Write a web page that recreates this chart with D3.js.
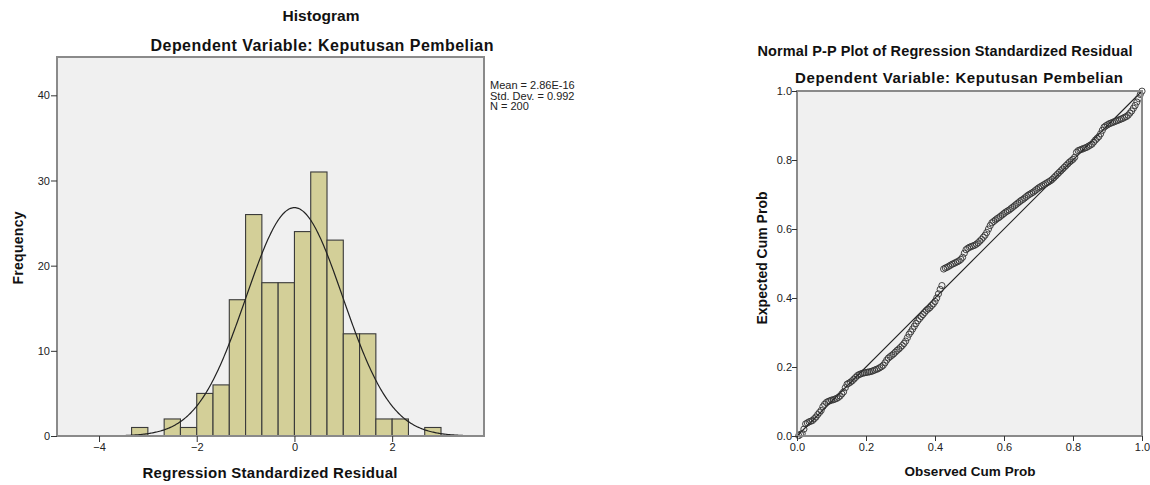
<!DOCTYPE html>
<html><head><meta charset="utf-8">
<script src="https://cdn.jsdelivr.net/npm/d3@7"></script>
<style>
html,body{margin:0;padding:0;background:#fff;}
svg{display:block;font-family:"Liberation Sans",Arial,sans-serif;}
</style></head>
<body>
<svg id="c" width="1150" height="485"></svg>
<script>
// ---------- Histogram data ----------
const binStarts = [-10/3,-3,-8/3,-7/3,-2,-5/3,-4/3,-1,-2/3,-1/3,0,1/3,2/3,1,4/3,5/3,2,7/3,8/3];
const binWidth = 1/3;
const frequencies = [1,0,2,1,5,6,16,26,18,18,24,31,23,12,12,2,2,0,1];
const histXTicks = [-4,-2,0,2];
const histYTicks = [0,10,20,30,40];
const statMean = 2.86e-16, statSD = 0.992, statN = 200;
const statLines = ["Mean = 2.86E-16","Std. Dev. = 0.992","N = 200"];

// ---------- P-P plot data (expected cum prob, ordered by observed rank) ----------
const expectedCumProb = [
0.001,0.005,0.007,0.020,0.035,0.038,0.041,0.043,0.045,0.050,
0.055,0.062,0.068,0.074,0.085,0.092,0.097,0.100,0.102,0.104,
0.105,0.107,0.109,0.112,0.116,0.122,0.128,0.140,0.150,0.153,
0.156,0.160,0.165,0.170,0.175,0.178,0.180,0.182,0.183,0.184,
0.185,0.186,0.187,0.189,0.191,0.193,0.195,0.198,0.201,0.205,
0.212,0.220,0.226,0.230,0.234,0.238,0.243,0.248,0.252,0.257,
0.262,0.268,0.275,0.285,0.295,0.302,0.310,0.318,0.326,0.334,
0.340,0.346,0.352,0.358,0.364,0.368,0.372,0.378,0.383,0.390,
0.400,0.412,0.425,0.436,0.484,0.487,0.489,0.492,0.495,0.498,
0.500,0.503,0.505,0.508,0.512,0.518,0.530,0.540,0.544,0.547,
0.549,0.551,0.553,0.556,0.560,0.565,0.570,0.576,0.582,0.590,
0.600,0.610,0.618,0.622,0.626,0.630,0.633,0.637,0.641,0.645,
0.649,0.652,0.655,0.659,0.663,0.667,0.671,0.675,0.679,0.683,
0.686,0.690,0.694,0.698,0.701,0.704,0.707,0.711,0.715,0.719,
0.722,0.725,0.728,0.731,0.734,0.737,0.740,0.744,0.749,0.754,
0.759,0.764,0.769,0.774,0.779,0.784,0.789,0.794,0.798,0.802,
0.808,0.822,0.827,0.829,0.831,0.833,0.835,0.837,0.840,0.843,
0.846,0.852,0.858,0.863,0.868,0.876,0.886,0.895,0.899,0.902,
0.905,0.907,0.909,0.911,0.913,0.915,0.917,0.919,0.921,0.924,
0.926,0.930,0.936,0.942,0.950,0.958,0.968,0.978,0.990,0.9995];
const ppTicks = [0,0.2,0.4,0.6,0.8,1.0];

const svg = d3.select("#c");
const tickColor = "#333";

function label(x,y,txt,size,len,rot){
  const t = svg.append("text").attr("text-anchor","middle")
    .style("font-size",size+"px").style("font-weight","bold").attr("fill","#111").text(txt);
  if(rot) t.attr("transform",`translate(${x},${y}) rotate(-90)`);
  else t.attr("x",x).attr("y",y);
  if(len) t.attr("textLength",len).attr("lengthAdjust","spacing");
  return t;
}

// ================= Histogram =================
const H = {l:57,r:484,t:57,b:436};
const hx = d3.scaleLinear().domain([-4.86,3.88]).range([H.l,H.r]);
const hy = d3.scaleLinear().domain([0,44.5]).range([H.b,H.t]);

svg.append("rect").attr("x",H.l).attr("y",H.t).attr("width",H.r-H.l).attr("height",H.b-H.t).attr("fill","#f0f0f0");

const bins = binStarts.map((s,i)=>({x0:s,x1:s+binWidth,f:frequencies[i]})).filter(d=>d.f>0);
svg.append("g").selectAll("rect").data(bins).join("rect")
  .attr("x",d=>hx(d.x0)).attr("y",d=>hy(d.f))
  .attr("width",d=>hx(d.x1)-hx(d.x0)).attr("height",d=>hy(0)-hy(d.f))
  .attr("fill","#d3cf98").attr("stroke","#3a3a3a").attr("stroke-width",1.1);

// fitted normal curve
const pdf = x => statN*binWidth*Math.exp(-0.5*Math.pow((x-statMean)/statSD,2))/(statSD*Math.sqrt(2*Math.PI));
const curveX = d3.range(-4.86,3.881,0.02);
svg.append("path").datum(curveX)
  .attr("d",d3.line().x(d=>hx(d)).y(d=>hy(pdf(d))))
  .attr("fill","none").attr("stroke","#222").attr("stroke-width",1.2);

// frame
svg.append("rect").attr("x",H.l).attr("y",H.t).attr("width",H.r-H.l).attr("height",H.b-H.t)
  .attr("fill","none").attr("stroke","#8a8a8a").attr("stroke-width",2);

const hxAxis = svg.append("g").attr("transform",`translate(0,${H.b})`)
  .call(d3.axisBottom(hx).tickValues(histXTicks).tickSize(6).tickSizeOuter(0).tickFormat(d3.format("d")));
const hyAxis = svg.append("g").attr("transform",`translate(${H.l},0)`)
  .call(d3.axisLeft(hy).tickValues(histYTicks).tickSize(6).tickSizeOuter(0).tickFormat(d3.format("d")));
[hxAxis,hyAxis].forEach(a=>{
  a.select(".domain").remove();
  a.selectAll("line").attr("stroke",tickColor);
  a.selectAll("text").attr("fill","#222").style("font-size","11px").style("font-family","Liberation Sans, Arial, sans-serif");
});
hxAxis.selectAll("text").attr("dy","0.71em").attr("y",7);
hyAxis.selectAll("text").attr("x",-7);

label(321,21,"Histogram",15.5,77);
label(322,51,"Dependent Variable: Keputusan Pembelian",16,343);
label(270,478,"Regression Standardized Residual",15,255);
label(23,248,"Frequency",14,73,true);
svg.append("g").selectAll("text").data(statLines).join("text")
  .attr("x",490).attr("y",(d,i)=>89+i*10.5)
  .style("font-size","11px").attr("fill","#222").text(d=>d);

// ================= P-P plot =================
const P = {l:797,r:1142,t:91,b:436};
const px = d3.scaleLinear().domain([0,1]).range([P.l,P.r]);
const py = d3.scaleLinear().domain([0,1]).range([P.b,P.t]);

svg.append("rect").attr("x",P.l).attr("y",P.t).attr("width",P.r-P.l).attr("height",P.b-P.t).attr("fill","#f0f0f0");
svg.append("line").attr("x1",px(0)).attr("y1",py(0)).attr("x2",px(1)).attr("y2",py(1))
  .attr("stroke","#222").attr("stroke-width",1.1);

const nObs = expectedCumProb.length;
const pts = expectedCumProb.map((e,i)=>({o:(i+1)/nObs,e:e}));
svg.append("g").selectAll("circle").data(pts).join("circle")
  .attr("cx",d=>px(d.o)).attr("cy",d=>py(d.e)).attr("r",3.1)
  .attr("fill","none").attr("stroke","#333").attr("stroke-opacity",0.9).attr("stroke-width",1);

svg.append("rect").attr("x",P.l).attr("y",P.t).attr("width",P.r-P.l).attr("height",P.b-P.t)
  .attr("fill","none").attr("stroke","#8a8a8a").attr("stroke-width",2);

const pxAxis = svg.append("g").attr("transform",`translate(0,${P.b})`)
  .call(d3.axisBottom(px).tickValues(ppTicks).tickSize(5).tickSizeOuter(0).tickFormat(d3.format(".1f")));
const pyAxis = svg.append("g").attr("transform",`translate(${P.l},0)`)
  .call(d3.axisLeft(py).tickValues(ppTicks).tickSize(5).tickSizeOuter(0).tickFormat(d3.format(".1f")));
[pxAxis,pyAxis].forEach(a=>{
  a.select(".domain").remove();
  a.selectAll("line").attr("stroke",tickColor);
  a.selectAll("text").attr("fill","#222").style("font-size","11px").style("font-family","Liberation Sans, Arial, sans-serif");
});
pxAxis.selectAll("text").attr("y",7);
pyAxis.selectAll("text").attr("x",-5);

label(945,56,"Normal P-P Plot of Regression Standardized Residual",14.5,375);
label(959,83,"Dependent Variable: Keputusan Pembelian",15,328);
label(970,476,"Observed Cum Prob",13.5,131);
label(767,258,"Expected Cum Prob",14,null,true);
</script>
</body></html>
